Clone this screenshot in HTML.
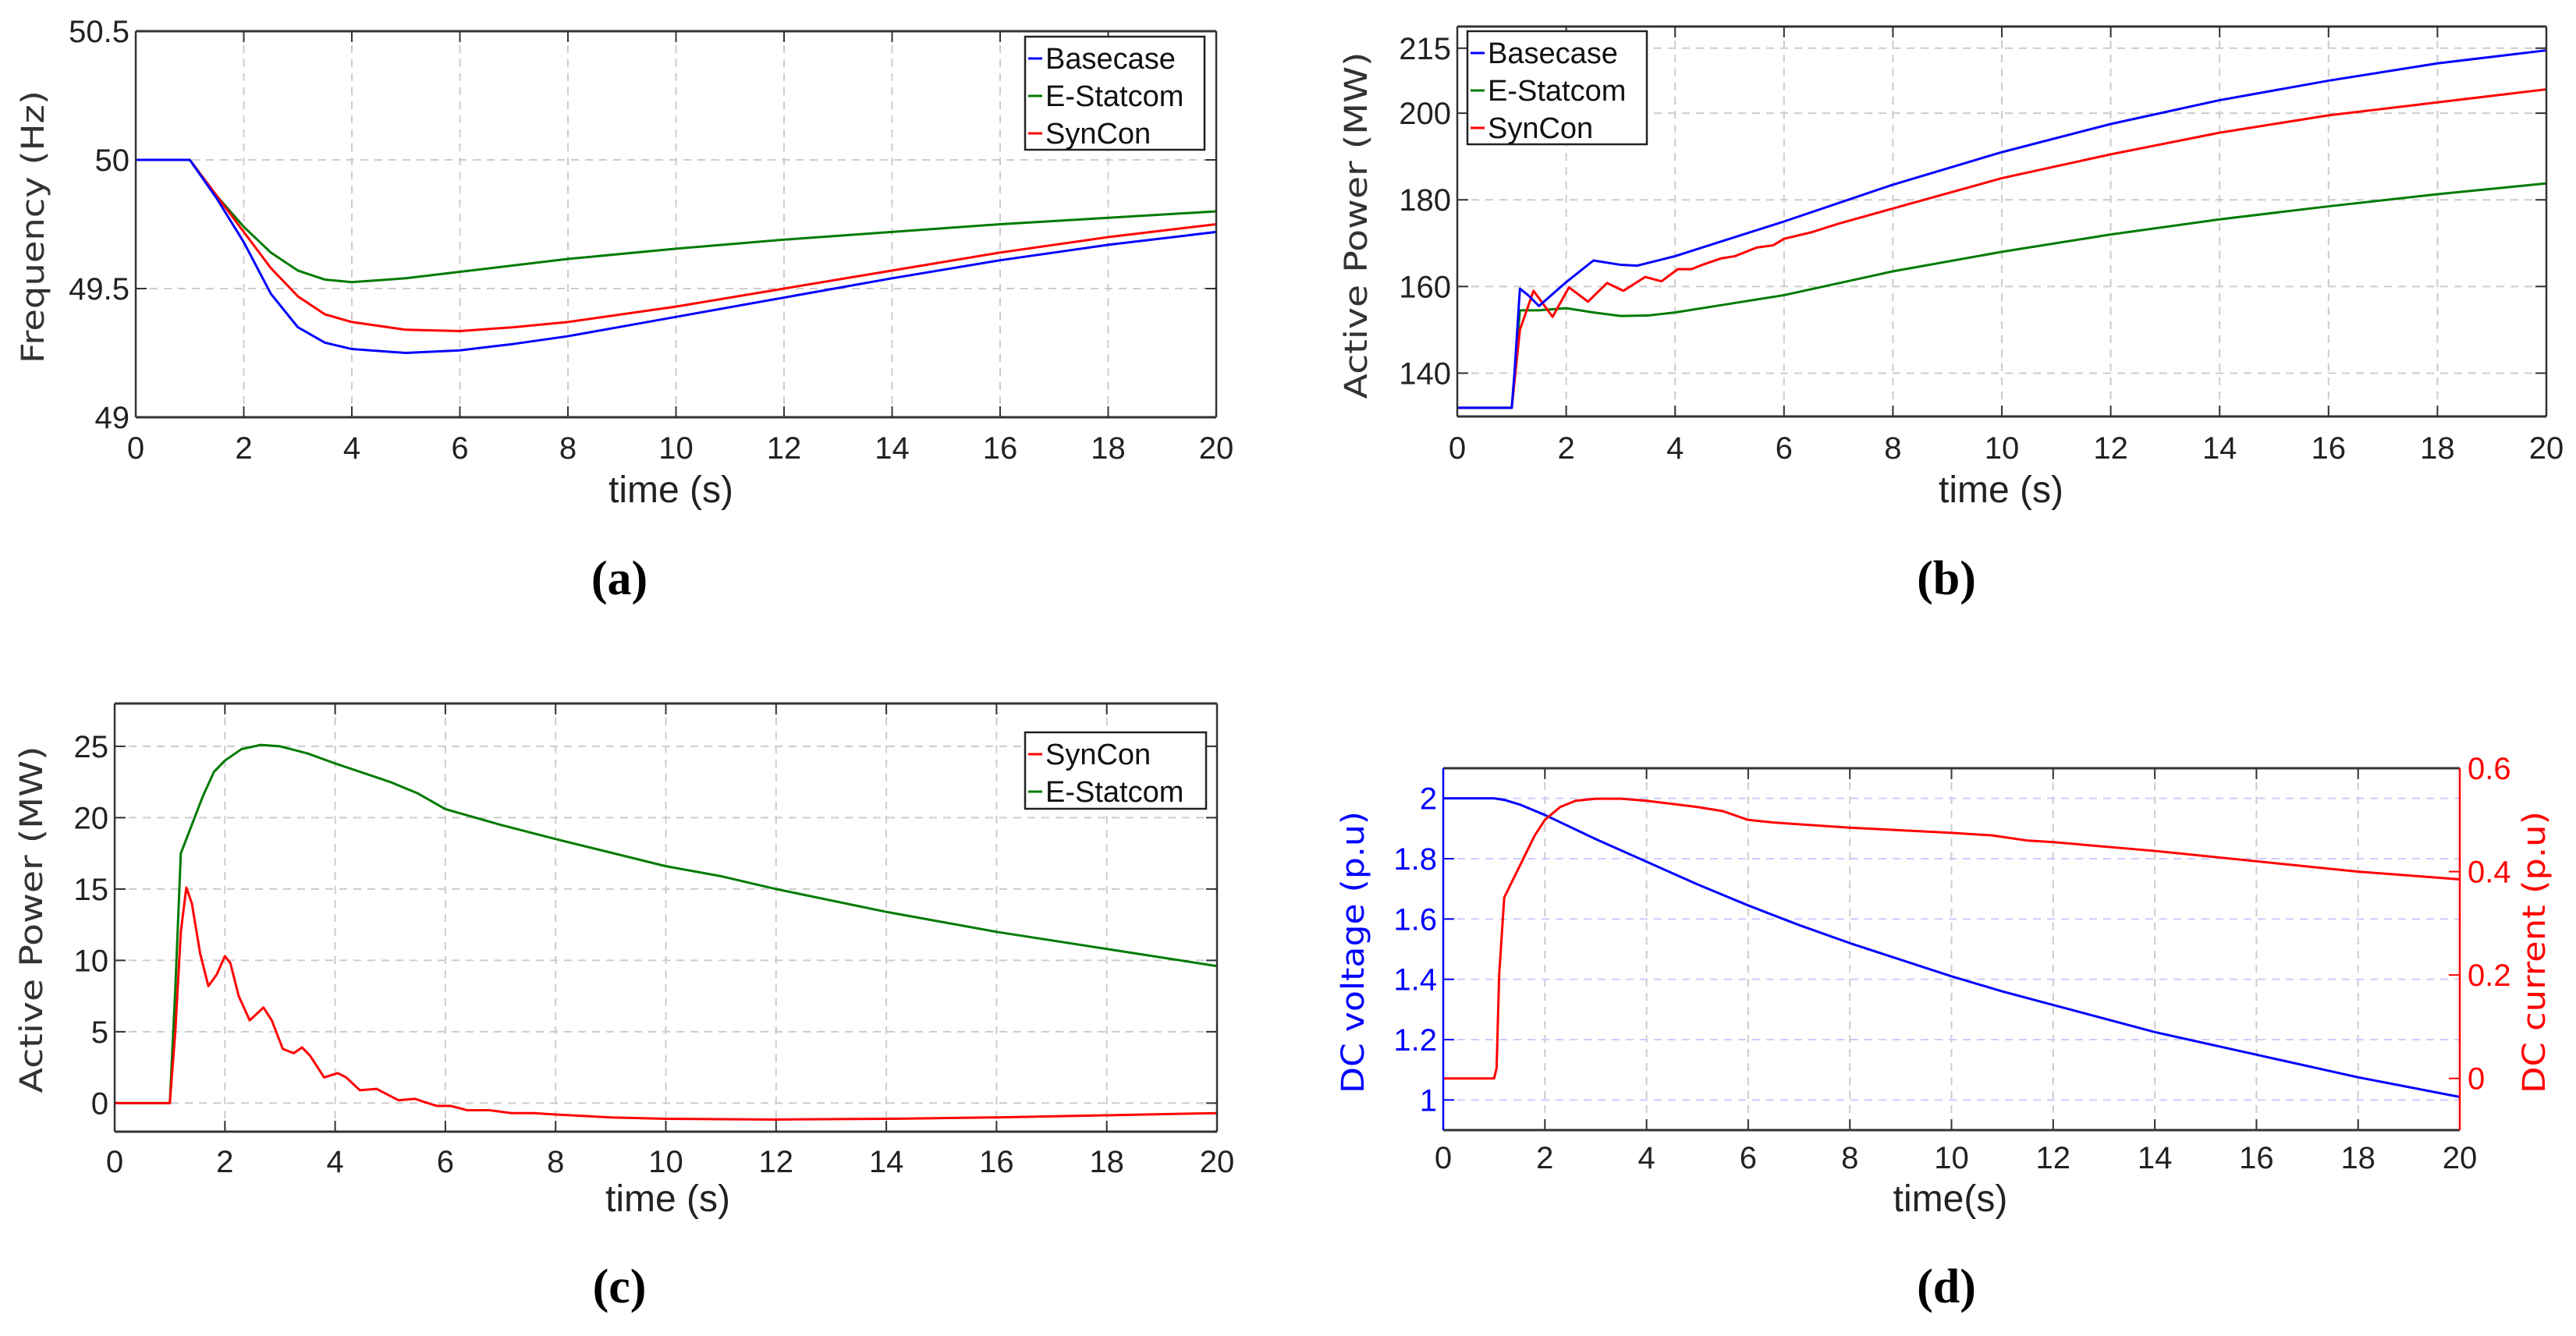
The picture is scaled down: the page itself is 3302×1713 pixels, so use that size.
<!DOCTYPE html>
<html><head><meta charset="utf-8"><style>
body{margin:0;background:#fff}
svg{display:block}
.tk{font-family:"Liberation Sans Narrow","Liberation Sans",sans-serif;font-size:40px;fill:#222}
.xl{font-family:"Liberation Sans Narrow","Liberation Sans",sans-serif;font-size:48px;fill:#222}
.yl{font-family:"DejaVu Sans",sans-serif;font-size:40px;fill:#333}
.lg{font-family:"Liberation Sans Narrow","Liberation Sans",sans-serif;font-size:38px;fill:#111}
.cap{font-family:"Liberation Serif",serif;font-size:62px;font-weight:bold;fill:#000}
</style></head><body>
<svg id="fig" width="3302" height="1713" viewBox="0 0 3302 1713" xmlns="http://www.w3.org/2000/svg">
<text class="cap" x="794" y="762" text-anchor="middle">(a)</text>
<text class="cap" x="2495" y="762" text-anchor="middle">(b)</text>
<text class="cap" x="794" y="1670" text-anchor="middle">(c)</text>
<text class="cap" x="2495" y="1670" text-anchor="middle">(d)</text>
</svg>
<script>
// ---- shared x ticks
const xTicks=[0,2,4,6,8,10,12,14,16,18,20];
// ---- panel a: frequency
const aBaseT=[0,1,1.5,2,2.5,3,3.5,4,5,6,7,8,10,12,14,16,18,20];
const aBaseV=[50,50,49.85,49.68,49.48,49.35,49.29,49.265,49.25,49.26,49.285,49.315,49.39,49.465,49.54,49.61,49.67,49.72];
const aStatT=[0,1,1.5,2,2.5,3,3.5,4,5,6,7,8,10,12,14,16,18,20];
const aStatV=[50,50,49.86,49.74,49.64,49.57,49.535,49.525,49.54,49.565,49.59,49.615,49.655,49.69,49.72,49.75,49.775,49.8];
const aSynT=[0,1,1.5,2,2.5,3,3.5,4,5,6,7,8,10,12,14,16,18,20];
const aSynV=[50,50,49.86,49.72,49.58,49.47,49.4,49.37,49.34,49.335,49.35,49.37,49.43,49.5,49.57,49.64,49.7,49.75];
const aYTicks=[49,49.5,50,50.5];
// ---- panel b: active power
const bBaseT=[0,1,1.05,1.15,1.3,1.5,2,2.5,3,3.3,4,5,6,8,10,12,14,16,18,20];
const bBaseV=[132,132,140,159.5,158,155.5,161,166,165,164.8,167,171,175,183.5,191,197.5,203,207.5,211.5,214.5];
const bStatT=[0,1,1.15,1.5,2,2.5,3,3.5,4,5,6,8,10,12,14,16,18,20];
const bStatV=[132,132,154.5,154.5,155,154,153.2,153.3,154,156,158,163.5,168,172,175.5,178.5,181.3,183.8];
const bSynT=[0,1,1.15,1.4,1.75,2.05,2.4,2.75,3.05,3.45,3.75,4.05,4.3,4.5,4.85,5.1,5.5,5.8,6,6.5,7,8,10,12,14,16,18,20];
const bSynV=[132,132,150,159,153,159.8,156.5,160.8,159,162.2,161.2,164,164,165,166.5,167,169,169.5,171,172.5,174.5,178,185,190.5,195.5,199.5,202.5,205.5];
const bYTicks=[140,160,180,200,215];
// ---- panel c
const cSynT=[0,1,1.1,1.2,1.3,1.4,1.55,1.7,1.85,2,2.1,2.25,2.45,2.7,2.85,3.05,3.25,3.4,3.55,3.8,4.05,4.2,4.45,4.75,4.9,5.15,5.45,5.6,5.85,6.1,6.4,6.8,7.2,7.6,8,9,10,12,14,16,18,20];
const cSynV=[0,0,5,12,15.1,14,10.5,8.2,9,10.3,9.8,7.5,5.8,6.7,5.8,3.8,3.5,3.9,3.3,1.8,2.1,1.8,0.9,1,0.7,0.2,0.3,0.1,-0.2,-0.2,-0.5,-0.5,-0.7,-0.7,-0.8,-1,-1.1,-1.15,-1.1,-1,-0.85,-0.7];
const cStatT=[0,1,1.1,1.2,1.4,1.6,1.8,2,2.3,2.65,3,3.5,4,5,5.5,6,7,8,10,11,12,14,16,18,20];
const cStatV=[0,0,8,17.5,19.5,21.5,23.2,24,24.8,25.1,25,24.5,23.8,22.5,21.7,20.6,19.5,18.5,16.6,15.9,15,13.4,12,10.8,9.6];
const cYTicks=[0,5,10,15,20,25];
// ---- panel d
const dVoltT=[0,1,1.2,1.5,2,3,4,5,6,7,8,9,10,11,12,14,16,18,20];
const dVoltV=[2,2,1.995,1.98,1.945,1.865,1.79,1.715,1.645,1.58,1.52,1.465,1.41,1.36,1.315,1.225,1.15,1.075,1.01];
const dCurT=[0,1,1.05,1.1,1.2,1.4,1.6,1.8,2,2.3,2.6,3,3.5,4,5,5.5,6,6.5,8,10,10.8,11.5,12,14,16,18,20];
const dCurV=[0,0,0.02,0.2,0.35,0.39,0.43,0.47,0.5,0.525,0.537,0.541,0.541,0.537,0.525,0.517,0.5,0.495,0.485,0.475,0.47,0.46,0.457,0.44,0.42,0.4,0.385];
const dYTicks=[1,1.2,1.4,1.6,1.8,2];
const dY2Ticks=[0,0.2,0.4,0.6];

const NS='http://www.w3.org/2000/svg';
const svg=document.getElementById('fig');
function mk(tag,attrs,parent){const e=document.createElementNS(NS,tag);for(const k in attrs)e.setAttribute(k,attrs[k]);(parent||svg).appendChild(e);return e;}
function scale(d0,d1,r0,r1){return v=>r0+(v-d0)/(d1-d0)*(r1-r0);}

function frame(g,L,R,T,B,xs,ys,yTicks,yFmt,gridColor,leftColor,tkCol,tickY,noRightTicks){
  xTicks.forEach(t=>{const x=xs(t);
    const gl=mk('line',{x1:x,x2:x,y1:T,y2:B,stroke:'#ccc','stroke-width':2,'stroke-dasharray':'10 8'},g);
    
    mk('line',{x1:x,x2:x,y1:B,y2:B-14,stroke:'#333','stroke-width':2},g);
    mk('line',{x1:x,x2:x,y1:T,y2:T+14,stroke:'#333','stroke-width':2},g);
    const tl=mk('text',{x:x,y:tickY,'text-anchor':'middle',class:'tk'},g);tl.textContent=t;
    
  });
  yTicks.forEach(v=>{const y=ys(v);
    const gl=mk('line',{x1:L,x2:R,y1:y,y2:y,stroke:gridColor,'stroke-width':2,'stroke-dasharray':'10 8'},g);
    
    mk('line',{x1:L,x2:L+14,y1:y,y2:y,stroke:leftColor,'stroke-width':2},g);
    if(!noRightTicks)mk('line',{x1:R,x2:R-14,y1:y,y2:y,stroke:'#333','stroke-width':2},g);
    const tl=mk('text',{x:L-8,y:y+14,'text-anchor':'end',class:'tk',fill:tkCol},g);tl.textContent=yFmt(v);
    tl.setAttribute('style','fill:'+tkCol);
    
  });
}
function border(g,L,R,T,B,lc,rc){
  mk('line',{x1:L,x2:R,y1:T,y2:T,stroke:'#333','stroke-width':3},g);
  mk('line',{x1:L,x2:R,y1:B,y2:B,stroke:'#333','stroke-width':3},g);
  mk('line',{x1:L,x2:L,y1:T,y2:B,stroke:lc,'stroke-width':2.5},g);
  mk('line',{x1:R,x2:R,y1:T,y2:B,stroke:rc,'stroke-width':2.5},g);
}
function series(g,ts,vs,xs,ys,col,name){
  const p=mk('polyline',{points:ts.map((t,i)=>xs(t)+','+ys(vs[i])).join(' '),fill:'none',stroke:col,'stroke-width':3,'stroke-linejoin':'round'},g);
  
}
function legend(g,x,y,w,h,items){
  const lg=mk('g',{},g);
  
  mk('rect',{x:x,y:y,width:w,height:h,fill:'#fff',stroke:'#222','stroke-width':2.5},lg);
  items.forEach((it,i)=>{const yy=y+28+i*48;
    const e=mk('g',{},lg);
    
    mk('line',{x1:x+4,x2:x+22,y1:yy,y2:yy,stroke:it[1],'stroke-width':3},e);
    const t=mk('text',{x:x+26,y:yy+13,class:'lg'},e);t.textContent=it[0];
  });
}
function ylab(g,x,y,txt,col,name,len){
  const t=mk('text',{x:x,y:y,'text-anchor':'middle',class:'yl',transform:'rotate(-90 '+x+' '+y+')',textLength:len,lengthAdjust:'spacingAndGlyphs'},g);
  t.setAttribute('style','fill:'+col);t.textContent=txt;
  
}
function xlab(g,x,y,txt){
  const t=mk('text',{x:x,y:y,'text-anchor':'middle',class:'xl'},g);t.textContent=txt;
  
}

// Panel a
(function(){
  const g=mk('g',{});
  const L=174,R=1559,T=40,B=535;
  const xs=scale(0,20,L,R),ys=scale(49,50.5,B,T);
  frame(g,L,R,T,B,xs,ys,aYTicks,v=>String(v),'#ccc','#333','#222',588);
  series(g,aStatT,aStatV,xs,ys,'#007a00','line-e-statcom');
  series(g,aSynT,aSynV,xs,ys,'#ff0000','line-syncon');
  series(g,aBaseT,aBaseV,xs,ys,'#0000ff','line-basecase');
  border(g,L,R,T,B,'#333','#333');
  legend(g,1314,47,230,145,[['Basecase','#0000ff'],['E-Statcom','#007a00'],['SynCon','#ff0000']]);
  ylab(g,56,291,'Frequency (Hz)','#333','y-axis-title',350);
  xlab(g,860,644,'time (s)');
})();
// Panel b
(function(){
  const g=mk('g',{});
  const L=1868,R=3264,T=34,B=534;
  const xs=scale(0,20,L,R),ys=scale(130,220,B,T);
  frame(g,L,R,T,B,xs,ys,bYTicks,v=>String(v),'#ccc','#333','#222',588);
  series(g,bStatT,bStatV,xs,ys,'#007a00','line-e-statcom');
  series(g,bSynT,bSynV,xs,ys,'#ff0000','line-syncon');
  series(g,bBaseT,bBaseV,xs,ys,'#0000ff','line-basecase');
  border(g,L,R,T,B,'#333','#333');
  legend(g,1881,40,230,145,[['Basecase','#0000ff'],['E-Statcom','#007a00'],['SynCon','#ff0000']]);
  ylab(g,1752,289,'Active Power (MW)','#333','y-axis-title',445);
  xlab(g,2565,644,'time (s)');
})();
// Panel c
(function(){
  const g=mk('g',{});
  const L=147,R=1560,T=902,B=1451;
  const xs=scale(0,20,L,R),ys=scale(-2,28,B,T);
  frame(g,L,R,T,B,xs,ys,cYTicks,v=>String(v),'#ccc','#333','#222',1503);
  series(g,cStatT,cStatV,xs,ys,'#007a00','line-e-statcom');
  series(g,cSynT,cSynV,xs,ys,'#ff0000','line-syncon');
  border(g,L,R,T,B,'#333','#333');
  legend(g,1314,939,232,98,[['SynCon','#ff0000'],['E-Statcom','#007a00']]);
  ylab(g,54,1179,'Active Power (MW)','#333','y-axis-title',445);
  xlab(g,856,1553,'time (s)');
})();
// Panel d
(function(){
  const g=mk('g',{});
  const L=1850,R=3153,T=985,B=1449;
  const xs=scale(0,20,L,R),ys=scale(0.9,2.1,B,T),ys2=scale(-0.1,0.6,B,T);
  frame(g,L,R,T,B,xs,ys,dYTicks,v=>String(v),'#ccccff','#0000ff','#0000ff',1498,true);
  dY2Ticks.forEach(v=>{const y=ys2(v);
    mk('line',{x1:R,x2:R-14,y1:y,y2:y,stroke:'#ff0000','stroke-width':2},g);
    const t=mk('text',{x:R+10,y:y+14,class:'tk'},g);t.setAttribute('style','fill:#ff0000');t.textContent=v;
    
  });
  series(g,dVoltT,dVoltV,xs,ys,'#0000ff','line-dc-voltage');
  series(g,dCurT,dCurV,xs,ys2,'#ff0000','line-dc-current');
  border(g,L,R,T,B,'#0000ff','#ff0000');
  ylab(g,1748,1221,'DC voltage (p.u)','#0000ff','y-axis-title-left',362);
  ylab(g,3262,1221,'DC current (p.u)','#ff0000','y-axis-title-right',362);
  xlab(g,2500,1553,'time(s)');
})();
</script>
</body></html>
